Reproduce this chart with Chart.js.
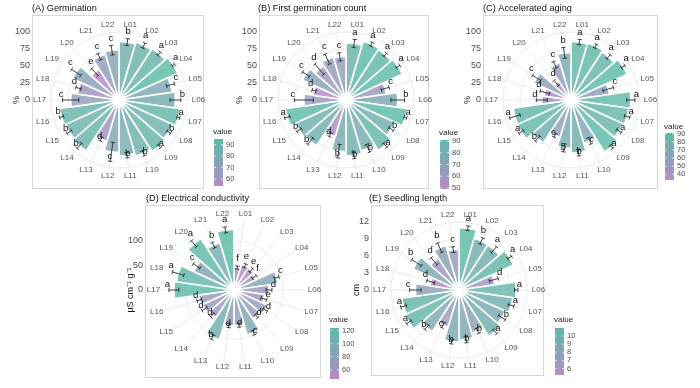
<!DOCTYPE html>
<html lang="en">
<head>
<meta charset="UTF-8">
<title>Seed quality of 22 lines</title>
<script src="https://cdn.jsdelivr.net/npm/chart.js"></script>
<style>
  html, body { margin: 0; padding: 0; background: #fff; }
  body { width: 700px; height: 388px; position: relative; overflow: hidden; }
  canvas { position: absolute; }
</style>
</head>
<body>
<canvas id="germChart"></canvas>
<canvas id="firstChart"></canvas>
<canvas id="agingChart"></canvas>
<canvas id="ecChart"></canvas>
<canvas id="lengthChart"></canvas>
<script>
const lines = ['L01','L02','L03','L04','L05','L06','L07','L08','L09','L10','L11',
               'L12','L13','L14','L15','L16','L17','L18','L19','L20','L21','L22'];

// (A) Germination, %
const germMean = [86, 88, 90, 95, 79, 83, 91, 87, 90, 86, 82, 77, 63, 89, 87, 88, 71, 62, 75, 54, 70, 74];
const germSd   = [5, 4, 3, 2, 6, 8, 2, 3, 3, 4, 4, 14, 3, 5, 4, 3, 12, 4, 8, 7, 5, 7];
const germLetters = ['b','a','a','a','c','b','a','b','a','b','b','c','d','b','b','b','c','d','c','e','c','c'];

// (B) First germination count, %
const firstMean = [84, 90, 88, 91, 60, 76, 91, 79, 88, 78, 82, 76, 56, 80, 82, 90, 62, 49, 70, 60, 66, 64];
const firstSd   = [6, 3, 3, 3, 6, 10, 2, 4, 4, 6, 5, 10, 3, 6, 4, 4, 14, 3, 6, 10, 8, 6];
const firstLetters = ['a','a','a','a','c','b','a','b','a','b','b','b','d','b','b','a','c','d','c','d','c','c'];

// (C) Accelerated aging, %
const agingMean = [86, 87, 84, 91, 57, 88, 86, 84, 91, 66, 78, 71, 57, 75, 87, 86, 43, 40, 60, 33, 57, 70];
const agingSd   = [4, 3, 4, 3, 8, 6, 4, 4, 3, 5, 5, 6, 3, 5, 4, 8, 8, 7, 7, 5, 5, 8];
const agingLetters = ['a','a','a','a','c','a','a','a','a','c','b','b','c','b','a','a','d','d','c','d','c','b'];

// (D) Electrical conductivity, µS cm-1 g-1
const ecMean = [46, 54, 53, 49, 90, 71, 63, 75, 70, 95, 72, 73, 105, 67, 71, 73, 122, 118, 90, 124, 100, 123];
const ecSd   = [3, 4, 5, 5, 5, 6, 6, 5, 4, 5, 4, 4, 5, 5, 6, 5, 10, 12, 8, 8, 6, 6];
const ecLetters = ['f','e','e','f','c','d','e','d','d','c','d','d','b','d','d','d','a','a','c','a','b','a'];

// (E) Seedling length, cm
const lengthMean = [11.0, 9.5, 9.4, 10.6, 6.4, 10.1, 9.6, 9.0, 9.7, 7.9, 8.8, 9.2, 6.8, 8.7, 10.5, 10.2, 7.7, 5.2, 8.9, 6.7, 8.2, 7.2];
const lengthSd   = [0.4, 0.6, 0.7, 0.4, 0.8, 0.3, 0.5, 0.7, 0.5, 0.5, 0.6, 0.4, 0.5, 0.5, 0.5, 0.5, 1.0, 0.7, 1.0, 0.8, 0.9, 0.5];
const lengthLetters = ['a','b','a','a','d','a','a','b','a','b','b','b','c','b','a','a','c','d','b','d','b','c'];

// axis ticks
const pctTicks = [0, 25, 50, 75, 100];
const ecTicks = [0, 50, 100];
const lengthTicks = [0, 3, 6, 9, 12];
const germLegendTicks = [60, 70, 80, 90];
const firstLegendTicks = [50, 60, 70, 80, 90];
const agingLegendTicks = [40, 50, 60, 70, 80, 90];
const ecLegendTicks = [60, 80, 100, 120];
const lengthLegendTicks = [6, 7, 8, 9, 10];

const FONT = '"Liberation Sans", Arial, sans-serif';
const LOW = [181, 139, 201], MID = [135, 163, 183], HIGH = [91, 187, 166];

function mix(a, b, t) { return a.map((v, i) => Math.round(v + (b[i] - v) * t)); }
function colorAt(t, alpha) {
  t = Math.max(0, Math.min(1, t));
  const c = t < 0.5 ? mix(LOW, MID, t * 2) : mix(MID, HIGH, (t - 0.5) * 2);
  return `rgba(${c[0]},${c[1]},${c[2]},${alpha})`;
}

// page layout of each panel
const panels = {
  germChart: {
    left: 0, top: 0, w: 236, h: 194, cx: 119, cy: 100, R: 68, rmax: 100,
    box: [32, 15, 203, 188], title: '(A) Germination', titleX: 32, titleY: 8,
    axisTitle: '%', axisX: 17, ticks: pctTicks,
    mean: germMean, sd: germSd, letters: germLetters,
    legend: { x: 214, top: 139, bottom: 186, titleY: 132, ticks: germLegendTicks }
  },
  firstChart: {
    left: 234, top: 0, w: 230, h: 194, cx: 346, cy: 100, R: 68, rmax: 100,
    box: [259, 15, 428, 188], title: '(B) First germination count', titleX: 258, titleY: 8,
    axisTitle: '%', axisX: 240, ticks: pctTicks,
    mean: firstMean, sd: firstSd, letters: firstLetters,
    legend: { x: 440, top: 140, bottom: 189, titleY: 133, ticks: firstLegendTicks }
  },
  agingChart: {
    left: 462, top: 0, w: 238, h: 194, cx: 571, cy: 100, R: 68, rmax: 100,
    box: [483, 15, 657, 188], title: '(C) Accelerated aging', titleX: 483, titleY: 8,
    axisTitle: '%', axisX: 468, ticks: pctTicks,
    mean: agingMean, sd: agingSd, letters: agingLetters,
    legend: { x: 665, top: 133, bottom: 180, titleY: 127, ticks: agingLegendTicks }
  },
  ecChart: {
    left: 118, top: 192, w: 240, h: 196, cx: 234, cy: 290, R: 69, rmax: 140,
    box: [145, 205, 320, 377], title: '(D) Electrical conductivity', titleX: 146, titleY: 198,
    axisTitle: 'µS cm⁻¹ g⁻¹', axisX: 131, ticks: ecTicks,
    mean: ecMean, sd: ecSd, letters: ecLetters,
    legend: { x: 330, top: 328, bottom: 379, titleY: 320, ticks: ecLegendTicks }
  },
  lengthChart: {
    left: 345, top: 192, w: 240, h: 196, cx: 459, cy: 290, R: 68, rmax: 12,
    box: [371, 205, 543, 375], title: '(E) Seedling length', titleX: 369, titleY: 198,
    axisTitle: 'cm', axisX: 357, ticks: lengthTicks,
    mean: lengthMean, sd: lengthSd, letters: lengthLetters,
    legend: { x: 555, top: 328, bottom: 375, titleY: 320, ticks: lengthLegendTicks }
  }
};

const decor = {
  id: 'decor',
  beforeDatasetsDraw(chart) {
    const p = panels[chart.canvas.id];
    const ctx = chart.ctx, s = chart.scales.r, meta = chart.getDatasetMeta(0);
    ctx.save();
    ctx.strokeStyle = '#d6d6d6';
    ctx.lineWidth = 1;
    ctx.strokeRect(p.box[0] - p.left + 0.5, p.box[1] - p.top + 0.5, p.box[2] - p.box[0], p.box[3] - p.box[1]);
    ctx.strokeStyle = '#e6e6e6';
    ctx.lineWidth = 0.8;
    p.ticks.forEach(v => {
      if (v <= 0) return;
      ctx.beginPath();
      ctx.arc(s.xCenter, s.yCenter, s.getDistanceFromCenterForValue(v), 0, Math.PI * 2);
      ctx.stroke();
    });
    const rOut = s.drawingArea * 1.05;
    meta.data.forEach(arc => {
      const a = (arc.startAngle + arc.endAngle) / 2;
      ctx.beginPath();
      ctx.moveTo(s.xCenter, s.yCenter);
      ctx.lineTo(s.xCenter + rOut * Math.cos(a), s.yCenter + rOut * Math.sin(a));
      ctx.stroke();
    });
    ctx.restore();
  },
  afterDatasetsDraw(chart) {
    const p = panels[chart.canvas.id];
    const ctx = chart.ctx, s = chart.scales.r, meta = chart.getDatasetMeta(0);
    const cx = s.xCenter, cy = s.yCenter;
    ctx.save();

    // error bars and letters
    ctx.textAlign = 'center';
    ctx.textBaseline = 'middle';
    meta.data.forEach((arc, i) => {
      const a = (arc.startAngle + arc.endAngle) / 2, c = Math.cos(a), sn = Math.sin(a);
      const r1 = s.getDistanceFromCenterForValue(p.mean[i] - p.sd[i]);
      const r2 = s.getDistanceFromCenterForValue(p.mean[i] + p.sd[i]);
      ctx.strokeStyle = '#1a1a1a';
      ctx.lineWidth = 0.8;
      ctx.beginPath();
      ctx.moveTo(cx + r1 * c, cy + r1 * sn);
      ctx.lineTo(cx + r2 * c, cy + r2 * sn);
      [r1, r2].forEach(r => {
        ctx.moveTo(cx + r * c - 2.2 * sn, cy + r * sn + 2.2 * c);
        ctx.lineTo(cx + r * c + 2.2 * sn, cy + r * sn - 2.2 * c);
      });
      ctx.stroke();
      ctx.fillStyle = '#111';
      ctx.font = '9.5px ' + FONT;
      const rl = r2 + 1.5;
      ctx.fillText(p.letters[i], cx + rl * c, cy + rl * sn - 6);
    });

    // line labels round the circle
    ctx.fillStyle = '#555';
    ctx.font = '8px ' + FONT;
    const rL = s.drawingArea * 1.07;
    meta.data.forEach((arc, i) => {
      const a = (arc.startAngle + arc.endAngle) / 2, c = Math.cos(a), sn = Math.sin(a);
      const w = ctx.measureText(lines[i]).width, h = 7;
      ctx.fillText(lines[i], cx + rL * c + c * w / 2, cy + rL * sn + sn * h / 2);
    });

    // radial axis
    ctx.fillStyle = '#4d4d4d';
    ctx.font = '9px ' + FONT;
    ctx.textAlign = 'right';
    p.ticks.forEach(v => {
      ctx.fillText(String(v), p.box[0] - p.left - 2, cy - s.getDistanceFromCenterForValue(v));
    });
    ctx.fillStyle = '#1a1a1a';
    ctx.textAlign = 'center';
    ctx.save();
    ctx.translate(p.axisX - p.left, cy);
    ctx.rotate(-Math.PI / 2);
    ctx.fillText(p.axisTitle, 0, 0);
    ctx.restore();

    // panel title
    ctx.textAlign = 'left';
    ctx.fillStyle = '#111';
    ctx.font = '9.2px ' + FONT;
    ctx.fillText(p.title, p.titleX - p.left, p.titleY - p.top);

    // colour bar legend
    const L = p.legend;
    const lo = Math.min(...p.mean), hi = Math.max(...p.mean);
    const x0 = L.x - p.left, yT = L.top - p.top, yB = L.bottom - p.top;
    const g = ctx.createLinearGradient(0, yB, 0, yT);
    g.addColorStop(0, colorAt(0, 1));
    g.addColorStop(0.5, colorAt(0.5, 1));
    g.addColorStop(1, colorAt(1, 1));
    ctx.fillStyle = g;
    ctx.fillRect(x0, yT, 9, yB - yT);
    ctx.font = '8px ' + FONT;
    ctx.fillStyle = '#1a1a1a';
    ctx.fillText('value', x0 - 1, L.titleY - p.top);
    ctx.font = '7.5px ' + FONT;
    ctx.fillStyle = '#4d4d4d';
    ctx.strokeStyle = 'rgba(255,255,255,0.9)';
    ctx.lineWidth = 0.8;
    L.ticks.forEach(v => {
      const y = yB - (v - lo) / (hi - lo) * (yB - yT);
      ctx.beginPath();
      ctx.moveTo(x0, y); ctx.lineTo(x0 + 2, y);
      ctx.moveTo(x0 + 7, y); ctx.lineTo(x0 + 9, y);
      ctx.stroke();
      ctx.fillText(String(v), x0 + 12, y);
    });
    ctx.restore();
  }
};

function makePanel(id) {
  const p = panels[id];
  const cv = document.getElementById(id);
  cv.width = p.w; cv.height = p.h;
  cv.style.left = p.left + 'px'; cv.style.top = p.top + 'px';
  const lo = Math.min(...p.mean), hi = Math.max(...p.mean);
  return new Chart(cv, {
    type: 'polarArea',
    data: {
      labels: lines,
      datasets: [{
        data: p.mean,
        backgroundColor: p.mean.map(v => colorAt((v - lo) / (hi - lo), 0.82)),
        borderColor: '#ffffff',
        borderWidth: 1.6
      }]
    },
    options: {
      responsive: false,
      animation: false,
      devicePixelRatio: 1,
      layout: {
        padding: {
          left: p.cx - p.R - p.left,
          top: p.cy - p.R - p.top,
          right: p.left + p.w - p.cx - p.R,
          bottom: p.top + p.h - p.cy - p.R
        }
      },
      scales: {
        r: {
          min: 0, max: p.rmax,
          ticks: { display: false },
          grid: { display: false },
          angleLines: { display: false },
          pointLabels: { display: false }
        }
      },
      plugins: { legend: { display: false }, tooltip: { enabled: false } }
    },
    plugins: [decor]
  });
}

Object.keys(panels).forEach(makePanel);
</script>
</body>
</html>
